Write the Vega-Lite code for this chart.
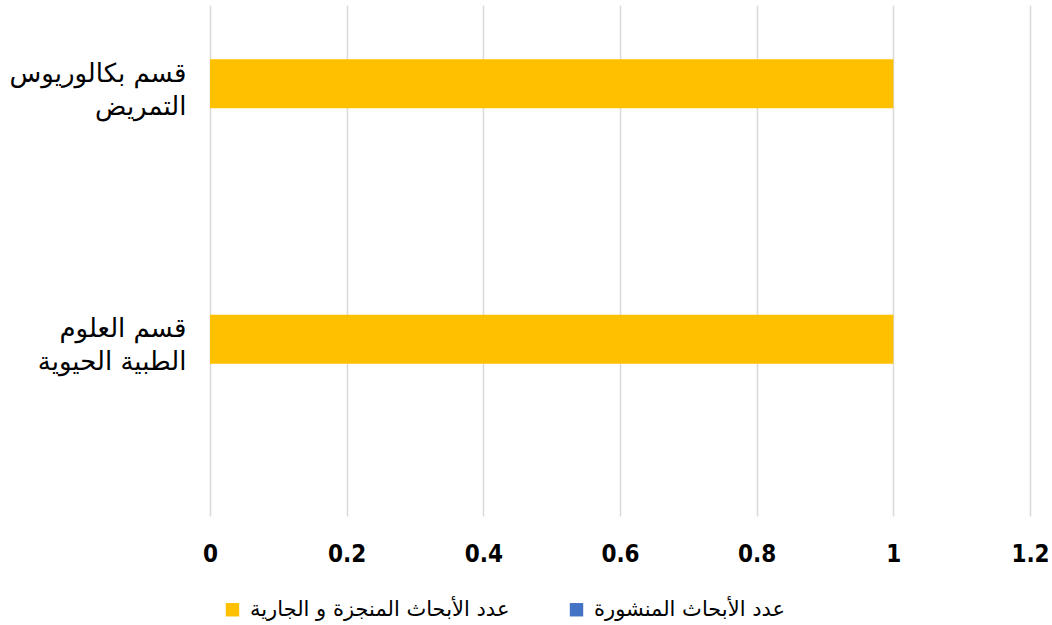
{
  "$schema": "https://vega.github.io/schema/vega-lite/v6.json",
  "width": 820,
  "height": 511,
  "autosize": {"type": "none"},
  "padding": {"left": 210, "top": 5, "right": 22, "bottom": 109},
  "background": "white",
  "config": {"view": {"stroke": null}},
  "data": {
    "values": [
      {"dept": "قسم بكالوريوس التمريض", "series": "عدد الأبحاث المنجزة و الجارية", "value": 1},
      {"dept": "قسم بكالوريوس التمريض", "series": "عدد الأبحاث المنشورة", "value": 0},
      {"dept": "قسم العلوم الطبية الحيوية", "series": "عدد الأبحاث المنجزة و الجارية", "value": 1},
      {"dept": "قسم العلوم الطبية الحيوية", "series": "عدد الأبحاث المنشورة", "value": 0}
    ]
  },
  "mark": {"type": "bar"},
  "encoding": {
    "y": {
      "field": "dept",
      "type": "nominal",
      "sort": ["قسم بكالوريوس التمريض", "قسم العلوم الطبية الحيوية"],
      "scale": {"paddingInner": 0.425, "paddingOuter": 0.2125},
      "axis": {
        "title": null,
        "domain": false,
        "ticks": false,
        "labelFont": "DejaVu Sans",
        "labelFontSize": 26,
        "labelColor": "#000000",
        "labelPadding": 24,
        "labelOffset": -59,
        "labelLineHeight": 33,
        "labelLimit": 300,
        "labelExpr": "datum.value == 'قسم بكالوريوس التمريض' ? ['قسم بكالوريوس', 'التمريض'] : ['قسم العلوم', 'الطبية الحيوية']"
      }
    },
    "yOffset": {
      "field": "series",
      "type": "nominal",
      "scale": {"domain": ["عدد الأبحاث المنجزة و الجارية", "عدد الأبحاث المنشورة", "_"], "paddingInner": 0, "paddingOuter": 0}
    },
    "x": {
      "field": "value",
      "type": "quantitative",
      "scale": {"domain": [0, 1.2], "nice": false},
      "axis": {
        "title": null,
        "domain": false,
        "ticks": false,
        "labelFlush": false,
        "values": [0, 0.2, 0.4, 0.6, 0.8, 1, 1.2],
        "labelExpr": "format(datum.value, '.1~f')",
        "grid": true,
        "gridColor": "#D9D9D9",
        "gridWidth": 1.5,
        "labelFont": "Liberation Sans Narrow, DejaVu Sans Condensed, sans-serif",
        "labelFontWeight": "bold",
        "labelFontSize": 24,
        "labelColor": "#000000",
        "labelPadding": 26
      }
    },
    "color": {
      "field": "series",
      "type": "nominal",
      "scale": {
        "domain": ["عدد الأبحاث المنجزة و الجارية", "عدد الأبحاث المنشورة"],
        "range": ["#FFC000", "#4472C4"]
      },
      "legend": {
        "title": null,
        "orient": "none",
        "direction": "horizontal",
        "legendX": 12,
        "legendY": 594,
        "symbolType": "square",
        "symbolSize": 180,
        "symbolStrokeWidth": 0,
        "labelFont": "DejaVu Sans",
        "labelFontSize": 21,
        "labelColor": "#000000",
        "labelLimit": 400,
        "columnPadding": 56,
        "labelOffset": 7
      }
    }
  }
}
